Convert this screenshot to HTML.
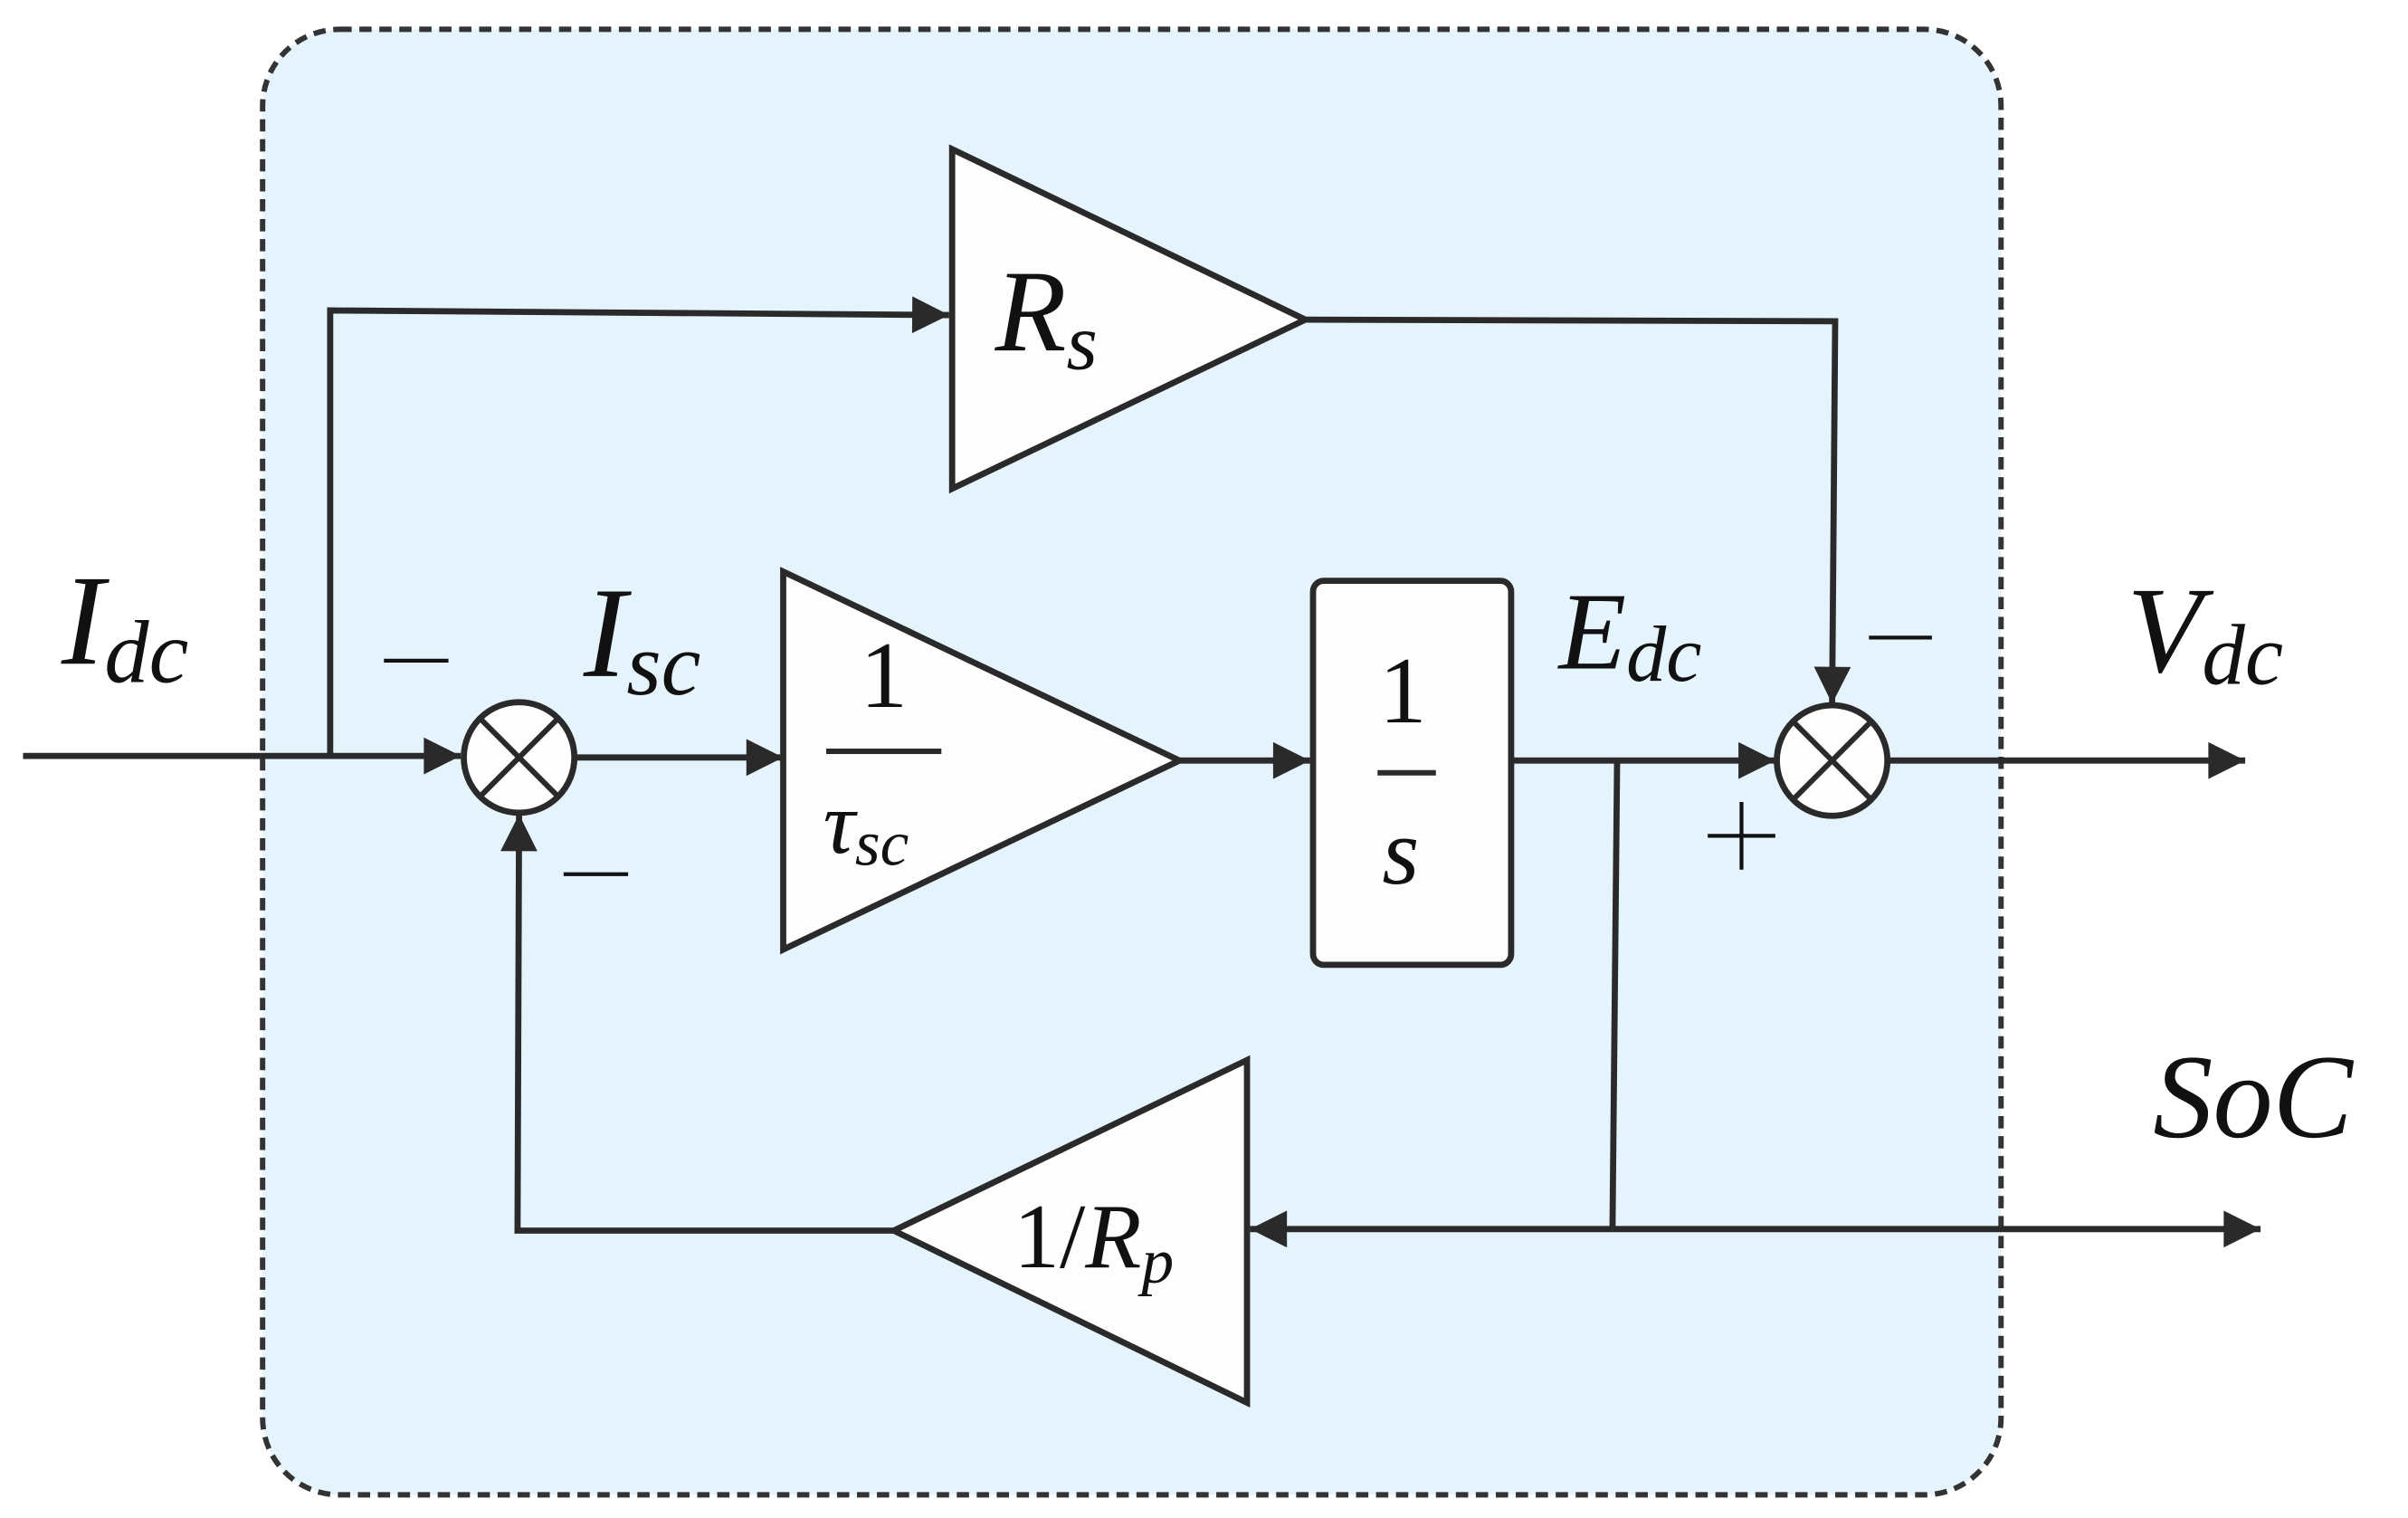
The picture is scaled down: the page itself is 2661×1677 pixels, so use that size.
<!DOCTYPE html>
<html><head><meta charset="utf-8"><style>
html,body{margin:0;padding:0;background:#fff;}
svg{display:block;}
text{font-family:"Liberation Serif",serif;font-style:italic;fill:#111;}
.n{font-style:normal;}
</style></head><body>
<svg width="2661" height="1677" viewBox="0 0 1568 988" xmlns="http://www.w3.org/2000/svg">
<defs>
<marker id="a" viewBox="0 0 10 10" refX="10" refY="5" markerWidth="30" markerHeight="24" markerUnits="userSpaceOnUse" orient="auto">
<path d="M0,0 L10,5 L0,10 z" fill="#2a2a2a"/></marker>
</defs>
<rect x="171" y="19" width="1132" height="954" rx="50" fill="#e5f4fc" stroke="#333" stroke-width="3.5" stroke-dasharray="8,5"/>
<g stroke="#2a2a2a" stroke-width="4" fill="none">
<polyline points="215,492 215,202 618,205" marker-end="url(#a)"/>
<polyline points="850,208 1195,209 1193,458" marker-end="url(#a)"/>
<line x1="15" y1="492" x2="300" y2="492" marker-end="url(#a)"/>
<line x1="375" y1="493" x2="510" y2="493" marker-end="url(#a)"/>
<line x1="768" y1="495" x2="853" y2="495" marker-end="url(#a)"/>
<line x1="984" y1="495" x2="1156" y2="495" marker-end="url(#a)"/>
<line x1="1230" y1="495" x2="1462" y2="495" marker-end="url(#a)"/>
<polyline points="1053,495 1050,800"/>
<line x1="1050" y1="800" x2="1472" y2="800" marker-end="url(#a)"/>
<line x1="1050" y1="800" x2="814" y2="800" marker-end="url(#a)"/>
<polyline points="582,801 337,801 338,530" marker-end="url(#a)"/>
</g>
<g stroke="#2a2a2a" stroke-width="4" fill="#fdfdfd">
<polygon points="620,97 620,318 850,208"/>
<polygon points="510,372 510,618 768,495"/>
<rect x="855" y="378" width="129" height="250" rx="7"/>
<polygon points="812,690 812,913 582,801"/>
<circle cx="338" cy="493" r="36"/>
<circle cx="1193" cy="495" r="36"/>
</g>
<g stroke="#2a2a2a" stroke-width="3.5">
<line x1="313" y1="468" x2="363" y2="518"/><line x1="363" y1="468" x2="313" y2="518"/>
<line x1="1168" y1="470" x2="1218" y2="520"/><line x1="1218" y1="470" x2="1168" y2="520"/>
<line x1="538" y1="489" x2="613" y2="489"/>
<line x1="897" y1="503" x2="935" y2="503"/>
</g>
<g stroke="#111" stroke-width="2.5">
<line x1="250" y1="430" x2="292" y2="430"/>
<line x1="367" y1="569" x2="409" y2="569"/>
<line x1="1217" y1="415" x2="1258" y2="415"/>
<line x1="1112" y1="544" x2="1156" y2="544"/>
<line x1="1134" y1="522" x2="1134" y2="566"/>
</g>
<text x="40" y="432" font-size="84">I<tspan font-size="58" dy="12">dc</tspan></text>
<text x="380" y="440" font-size="84">I<tspan font-size="58" dy="12">sc</tspan></text>
<text x="1015" y="435" font-size="72">E<tspan font-size="52" dy="8">dc</tspan></text>
<text x="1385" y="437" font-size="80">V<tspan font-size="56" dy="8">dc</tspan></text>
<text x="1402" y="740" font-size="78">SoC</text>
<text x="648" y="228" font-size="76">R<tspan font-size="52" dy="12">s</tspan></text>
<text x="660" y="825" font-size="60"><tspan class="n">1/</tspan>R<tspan font-size="42" dy="10">p</tspan></text>
<text x="560" y="460" font-size="62" class="n">1</text>
<text x="536" y="555" font-size="58">τ<tspan font-size="42" dy="8">sc</tspan></text>
<text x="898" y="470" font-size="62" class="n">1</text>
<text x="900" y="575" font-size="62">s</text>
</svg>
</body></html>
